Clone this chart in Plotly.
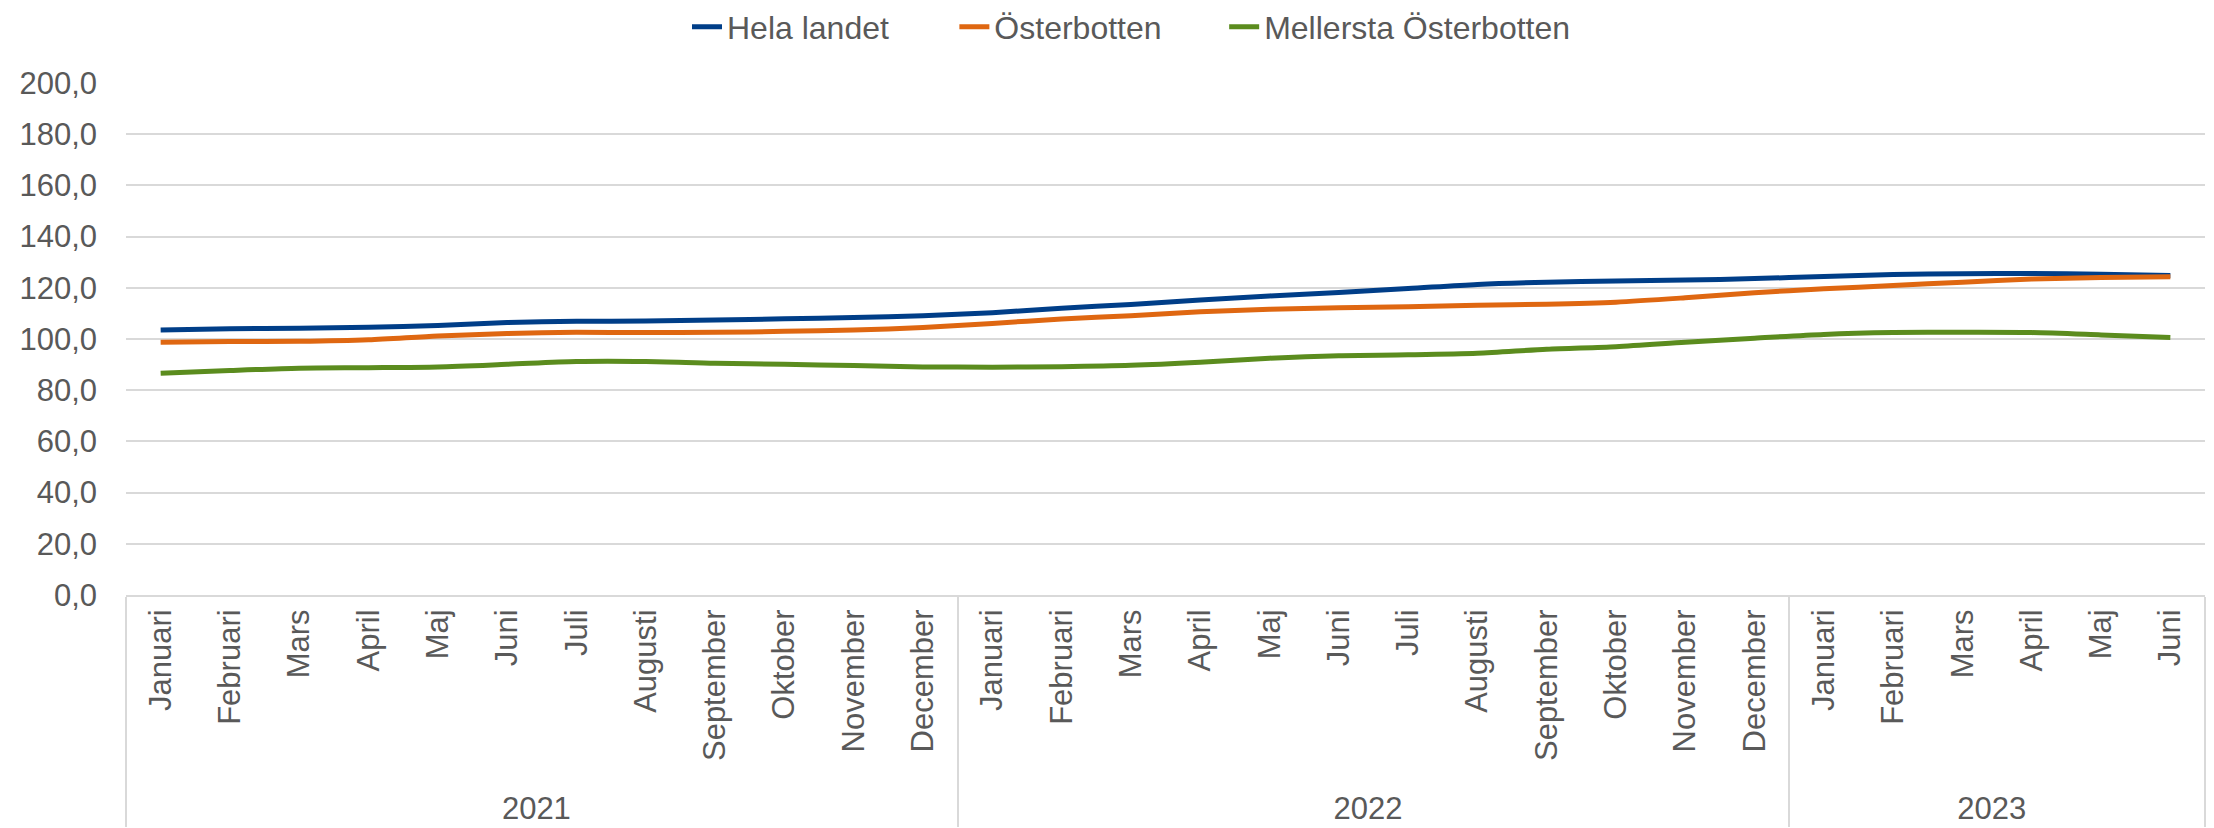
import plotly.graph_objects as go

years = ["2021"] * 12 + ["2022"] * 12 + ["2023"] * 6
months_all = ["Januari", "Februari", "Mars", "April", "Maj", "Juni", "Juli",
              "Augusti", "September", "Oktober", "November", "December"]
months = months_all + months_all + months_all[:6]

hela_landet = [103.5, 104.0, 104.2, 104.6, 105.3, 106.4, 106.9, 107.0, 107.4, 107.9,
               108.4, 109.1, 110.3, 112.0, 113.5, 115.2, 116.8, 118.2, 119.7, 121.3,
               122.2, 122.7, 123.0, 123.6, 124.4, 125.2, 125.5, 125.6, 125.3, 124.8]
osterbotten = [98.7, 99.0, 99.1, 99.7, 101.2, 102.1, 102.6, 102.5, 102.6, 103.0,
               103.5, 104.5, 106.1, 107.8, 109.1, 110.6, 111.6, 112.2, 112.6, 113.2,
               113.6, 114.4, 116.1, 118.1, 119.6, 120.9, 122.2, 123.4, 124.0, 124.3]
mellersta = [86.6, 87.7, 88.6, 88.8, 89.1, 90.1, 91.2, 91.2, 90.5, 90.1,
             89.6, 89.1, 89.0, 89.2, 89.7, 90.9, 92.5, 93.5, 93.8, 94.4,
             96.0, 97.0, 98.7, 100.3, 101.8, 102.5, 102.6, 102.5, 101.6, 100.6]

series = [
    ("Hela landet", hela_landet, "#003E88", "legend", 0.3078),
    ("Österbotten", osterbotten, "#DF6711", "legend2", 0.4290),
    ("Mellersta Österbotten", mellersta, "#5B8C1E", "legend3", 0.5513),
]

FONT = "Liberation Sans, Arial, sans-serif"
GRAY = "#595959"
W, H = 2206, 820  # page body has an 8px margin

fig = go.Figure()
legends = {}
for name, vals, col, lg, lx in series:
    fig.add_trace(go.Scatter(
        x=[years, months], y=vals, name=name, mode="lines", legend=lg,
        line=dict(color=col, width=5, shape="spline", smoothing=0.8),
    ))
    legends[lg] = dict(orientation="h", xref="container", yref="container",
                       x=lx, xanchor="left", y=0.9768, yanchor="middle",
                       font=dict(size=32, color=GRAY), itemwidth=30,
                       bgcolor="rgba(0,0,0,0)")

fig.update_layout(
    width=W, height=H,
    margin=dict(l=118, r=9, t=75, b=233, autoexpand=False),
    plot_bgcolor="white", paper_bgcolor="white",
    font=dict(family=FONT, color=GRAY, size=31),
    separators=", ",
    showlegend=True,
    **legends,
)
fig.update_yaxes(
    range=[0, 200], dtick=20, tickformat=".1f",
    showgrid=True, gridcolor="#D9D9D9", gridwidth=1.5,
    zeroline=False, showline=False, ticks="",
    ticklabelstandoff=28, automargin=False,
    tickfont=dict(size=31, color=GRAY),
)
fig.update_xaxes(
    type="multicategory", range=[-0.5, 29.5], automargin=False,
    showline=True, linecolor="#D9D9D9", linewidth=2,
    showgrid=False, ticks="",
    tickangle=-90,
    showdividers=True, dividercolor="#D9D9D9", dividerwidth=1.5,
    tickfont=dict(size=31, color=GRAY),
)

fig.write_html("out.html")
